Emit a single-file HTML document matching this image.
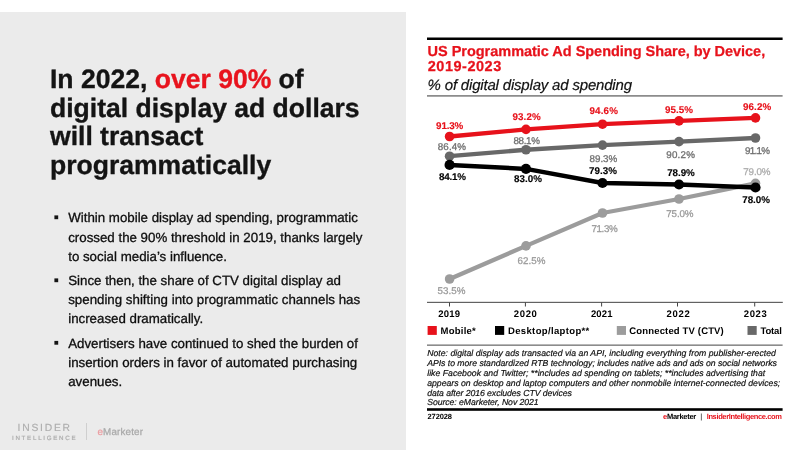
<!DOCTYPE html><html><head><meta charset="utf-8"><title>Slide</title><style>
html,body{margin:0;padding:0}body{width:800px;height:450px;position:relative;overflow:hidden;background:#fff;font-family:"Liberation Sans", sans-serif}
.t{position:absolute;white-space:nowrap;line-height:1;text-rendering:geometricPrecision}.r{position:absolute}
</style></head><body><div id="slide" style="position:absolute;left:0;top:0;width:800px;height:450px;will-change:transform">
<div class="r" style="left:0;top:12px;width:406px;height:438px;background:#ebebeb"></div>
<svg width="800" height="450" viewBox="0 0 800 450" style="position:absolute;left:0;top:0"><polyline points="449.60,279.00 526.00,245.90 602.50,213.00 679.00,199.00 755.50,183.30" fill="none" stroke="#9c9c9c" stroke-width="4.3" stroke-linejoin="round" stroke-linecap="round"/><circle cx="449.60" cy="279.00" r="4.8" fill="#9c9c9c"/><circle cx="526.00" cy="245.90" r="4.8" fill="#9c9c9c"/><circle cx="602.50" cy="213.00" r="4.8" fill="#9c9c9c"/><circle cx="679.00" cy="199.00" r="4.8" fill="#9c9c9c"/><circle cx="755.50" cy="183.30" r="4.8" fill="#9c9c9c"/><polyline points="449.60,156.20 526.00,149.75 602.50,145.10 679.00,141.65 755.50,138.00" fill="none" stroke="#686868" stroke-width="4.3" stroke-linejoin="round" stroke-linecap="round"/><circle cx="449.60" cy="156.20" r="4.8" fill="#686868"/><circle cx="526.00" cy="149.75" r="4.8" fill="#686868"/><circle cx="602.50" cy="145.10" r="4.8" fill="#686868"/><circle cx="679.00" cy="141.65" r="4.8" fill="#686868"/><circle cx="755.50" cy="138.00" r="4.8" fill="#686868"/><polyline points="449.60,164.90 526.00,168.90 602.50,183.00 679.00,184.50 755.50,187.50" fill="none" stroke="#000" stroke-width="4.5" stroke-linejoin="round" stroke-linecap="round"/><circle cx="449.60" cy="164.90" r="5.1" fill="#000"/><circle cx="526.00" cy="168.90" r="5.1" fill="#000"/><circle cx="602.50" cy="183.00" r="5.1" fill="#000"/><circle cx="679.00" cy="184.50" r="5.1" fill="#000"/><circle cx="755.50" cy="187.50" r="5.1" fill="#000"/><polyline points="449.60,136.50 526.00,129.35 602.50,124.20 679.00,120.90 755.50,117.90" fill="none" stroke="#e7121b" stroke-width="4.3" stroke-linejoin="round" stroke-linecap="round"/><circle cx="449.60" cy="136.50" r="4.8" fill="#e7121b"/><circle cx="526.00" cy="129.35" r="4.8" fill="#e7121b"/><circle cx="602.50" cy="124.20" r="4.8" fill="#e7121b"/><circle cx="679.00" cy="120.90" r="4.8" fill="#e7121b"/><circle cx="755.50" cy="117.90" r="4.8" fill="#e7121b"/><rect x="54.4" y="215.4" width="3.8" height="3.8" fill="#141414"/><rect x="54.4" y="278.4" width="3.8" height="3.8" fill="#141414"/><rect x="54.4" y="340.9" width="3.8" height="3.8" fill="#141414"/><rect x="86" y="423" width="1" height="17" fill="#cfcfcf"/><rect x="427" y="37.5" width="355.6" height="2.5" fill="#000"/><rect x="427" y="95.2" width="355.6" height="1.4" fill="#707070"/><rect x="427" y="301.8" width="355.8" height="1.2" fill="#626262"/><rect x="449" y="302.5" width="1" height="4" fill="#444"/><rect x="524.9" y="302.5" width="1" height="4" fill="#444"/><rect x="601.1" y="302.5" width="1" height="4" fill="#444"/><rect x="677" y="302.5" width="1" height="4" fill="#444"/><rect x="754.2" y="302.5" width="1" height="4" fill="#444"/><rect x="427" y="344.5" width="355.6" height="1.3" fill="#707070"/><rect x="427" y="408.2" width="355.6" height="2.6" fill="#000"/><rect x="427.6" y="326" width="9.2" height="8.9" fill="#e7121b"/><rect x="495" y="326" width="9.2" height="8.9" fill="#000"/><rect x="616.8" y="326" width="9.2" height="8.9" fill="#9c9c9c"/><rect x="747.5" y="326" width="9.2" height="8.9" fill="#686868"/></svg>
<section id="headline">
<div class="t" style="left:50.00px;top:66.00px;color:#141414;font-size:26.54px;font-weight:700;-webkit-text-stroke:0.35px;">In 2022, <span style="color:#e8131d">over 90%</span> of</div>
<div class="t" style="left:50.00px;top:95.00px;color:#141414;font-size:26.54px;font-weight:700;-webkit-text-stroke:0.35px;">digital display ad dollars</div>
<div class="t" style="left:50.00px;top:123.00px;color:#141414;font-size:26.54px;font-weight:700;-webkit-text-stroke:0.35px;">will transact</div>
<div class="t" style="left:50.00px;top:152.00px;color:#141414;font-size:26.54px;font-weight:700;-webkit-text-stroke:0.35px;">programmatically</div>
</section>
<section id="bullets">
<div class="t" style="left:68.20px;top:211.00px;color:#0e0e0e;font-size:13.3px;font-weight:400;-webkit-text-stroke:0.3px;">Within mobile display ad spending, programmatic</div>
<div class="t" style="left:68.20px;top:231.00px;color:#0e0e0e;font-size:13.3px;font-weight:400;-webkit-text-stroke:0.3px;">crossed the 90% threshold in 2019, thanks largely</div>
<div class="t" style="left:68.20px;top:250.00px;color:#0e0e0e;font-size:13.3px;font-weight:400;-webkit-text-stroke:0.3px;">to social media’s influence.</div>
<div class="t" style="left:68.20px;top:274.00px;color:#0e0e0e;font-size:13.3px;font-weight:400;-webkit-text-stroke:0.3px;">Since then, the share of CTV digital display ad</div>
<div class="t" style="left:68.20px;top:293.00px;color:#0e0e0e;font-size:13.3px;font-weight:400;-webkit-text-stroke:0.3px;">spending shifting into programmatic channels has</div>
<div class="t" style="left:68.20px;top:312.00px;color:#0e0e0e;font-size:13.3px;font-weight:400;-webkit-text-stroke:0.3px;">increased dramatically.</div>
<div class="t" style="left:68.20px;top:337.00px;color:#0e0e0e;font-size:13.3px;font-weight:400;-webkit-text-stroke:0.3px;">Advertisers have continued to shed the burden of</div>
<div class="t" style="left:68.20px;top:356.00px;color:#0e0e0e;font-size:13.3px;font-weight:400;-webkit-text-stroke:0.3px;">insertion orders in favor of automated purchasing</div>
<div class="t" style="left:68.20px;top:375.00px;color:#0e0e0e;font-size:13.3px;font-weight:400;-webkit-text-stroke:0.3px;">avenues.</div>
</section>
<section id="chart-header">
<div class="t" style="left:427.60px;top:45.00px;color:#e7121b;font-size:14.5px;font-weight:700;letter-spacing:-0.025px;-webkit-text-stroke:0.25px;">US Programmatic Ad Spending Share, by Device,</div>
<div class="t" style="left:427.80px;top:60.00px;color:#e7121b;font-size:14.5px;font-weight:700;letter-spacing:0.507px;-webkit-text-stroke:0.25px;">2019-2023</div>
<div class="t" style="left:427.60px;top:78.00px;color:#111;font-size:15px;font-weight:400;font-style:italic;letter-spacing:-0.185px;-webkit-text-stroke:0.2px;">% of digital display ad spending</div>
</section>
<section id="data-labels">
<div class="t" style="left:436.10px;top:122.00px;color:#e7121b;font-size:9.8px;font-weight:700;letter-spacing:-0.145px;-webkit-text-stroke:0.15px;">91.3%</div>
<div class="t" style="left:512.45px;top:113.00px;color:#e7121b;font-size:9.8px;font-weight:700;letter-spacing:0.130px;-webkit-text-stroke:0.15px;">93.2%</div>
<div class="t" style="left:589.45px;top:107.00px;color:#e7121b;font-size:9.8px;font-weight:700;letter-spacing:0.180px;-webkit-text-stroke:0.15px;">94.6%</div>
<div class="t" style="left:665.00px;top:106.00px;color:#e7121b;font-size:9.8px;font-weight:700;letter-spacing:0.055px;-webkit-text-stroke:0.15px;">95.5%</div>
<div class="t" style="left:743.00px;top:103.00px;color:#e7121b;font-size:9.8px;font-weight:700;letter-spacing:0.105px;-webkit-text-stroke:0.15px;">96.2%</div>
<div class="t" style="left:437.80px;top:143.00px;color:#6f6f6f;font-size:9.8px;font-weight:400;letter-spacing:0.105px;-webkit-text-stroke:0.3px;">86.4%</div>
<div class="t" style="left:513.50px;top:137.00px;color:#6f6f6f;font-size:9.8px;font-weight:400;letter-spacing:-0.345px;-webkit-text-stroke:0.3px;">88.1%</div>
<div class="t" style="left:589.55px;top:155.00px;color:#6f6f6f;font-size:9.8px;font-weight:400;letter-spacing:-0.020px;-webkit-text-stroke:0.3px;">89.3%</div>
<div class="t" style="left:666.20px;top:151.00px;color:#6f6f6f;font-size:9.8px;font-weight:400;letter-spacing:0.255px;-webkit-text-stroke:0.3px;">90.2%</div>
<div class="t" style="left:744.90px;top:147.00px;color:#6f6f6f;font-size:9.8px;font-weight:400;letter-spacing:-0.695px;-webkit-text-stroke:0.3px;">91.1%</div>
<div class="t" style="left:438.90px;top:173.00px;color:#000;font-size:9.8px;font-weight:700;letter-spacing:-0.195px;-webkit-text-stroke:0.15px;">84.1%</div>
<div class="t" style="left:514.00px;top:175.00px;color:#000;font-size:9.8px;font-weight:700;letter-spacing:0.055px;-webkit-text-stroke:0.15px;">83.0%</div>
<div class="t" style="left:589.00px;top:167.00px;color:#000;font-size:9.8px;font-weight:700;letter-spacing:0.055px;-webkit-text-stroke:0.15px;">79.3%</div>
<div class="t" style="left:667.20px;top:169.00px;color:#000;font-size:9.8px;font-weight:700;letter-spacing:-0.045px;-webkit-text-stroke:0.15px;">78.9%</div>
<div class="t" style="left:742.20px;top:196.00px;color:#000;font-size:9.8px;font-weight:700;letter-spacing:0.005px;-webkit-text-stroke:0.15px;">78.0%</div>
<div class="t" style="left:437.50px;top:287.00px;color:#9c9c9c;font-size:9.8px;font-weight:400;letter-spacing:0.055px;-webkit-text-stroke:0.3px;">53.5%</div>
<div class="t" style="left:517.50px;top:257.00px;color:#9c9c9c;font-size:9.8px;font-weight:400;letter-spacing:0.055px;-webkit-text-stroke:0.3px;">62.5%</div>
<div class="t" style="left:591.45px;top:225.00px;color:#9c9c9c;font-size:9.8px;font-weight:400;letter-spacing:-0.370px;-webkit-text-stroke:0.3px;">71.3%</div>
<div class="t" style="left:666.25px;top:210.00px;color:#9c9c9c;font-size:9.8px;font-weight:400;letter-spacing:-0.120px;-webkit-text-stroke:0.3px;">75.0%</div>
<div class="t" style="left:743.25px;top:168.00px;color:#adadad;font-size:9.8px;font-weight:400;letter-spacing:-0.120px;-webkit-text-stroke:0.3px;">79.0%</div>
</section>
<section id="axis-labels">
<div class="t" style="left:438.30px;top:310.00px;color:#000;font-size:9.5px;font-weight:700;letter-spacing:0.220px;">2019</div>
<div class="t" style="left:513.70px;top:310.00px;color:#000;font-size:9.5px;font-weight:700;letter-spacing:0.686px;">2020</div>
<div class="t" style="left:590.95px;top:310.00px;color:#000;font-size:9.5px;font-weight:700;letter-spacing:0.120px;">2021</div>
<div class="t" style="left:666.50px;top:310.00px;color:#000;font-size:9.5px;font-weight:700;letter-spacing:0.686px;">2022</div>
<div class="t" style="left:743.80px;top:310.00px;color:#000;font-size:9.5px;font-weight:700;letter-spacing:0.620px;">2023</div>
</section>
<section id="legend">
<div class="t" style="left:440.50px;top:327.00px;color:#000;font-size:9.5px;font-weight:700;letter-spacing:0.253px;">Mobile*</div>
<div class="t" style="left:508.00px;top:327.00px;color:#000;font-size:9.5px;font-weight:700;letter-spacing:0.352px;">Desktop/laptop**</div>
<div class="t" style="left:629.30px;top:327.00px;color:#000;font-size:9.5px;font-weight:700;letter-spacing:0.156px;">Connected TV (CTV)</div>
<div class="t" style="left:760.50px;top:327.00px;color:#000;font-size:9.5px;font-weight:700;letter-spacing:-0.175px;">Total</div>
</section>
<section id="notes">
<div class="t" style="left:427.20px;top:349.00px;color:#0c0c0c;font-size:8.7px;font-weight:400;font-style:italic;letter-spacing:0.017px;-webkit-text-stroke:0.18px;">Note: digital display ads transacted via an API, including everything from publisher-erected</div>
<div class="t" style="left:427.20px;top:359.00px;color:#0c0c0c;font-size:8.7px;font-weight:400;font-style:italic;letter-spacing:-0.030px;-webkit-text-stroke:0.18px;">APIs to more standardized RTB technology; includes native ads and ads on social networks</div>
<div class="t" style="left:427.20px;top:369.00px;color:#0c0c0c;font-size:8.7px;font-weight:400;font-style:italic;letter-spacing:0.018px;-webkit-text-stroke:0.18px;">like Facebook and Twitter; **includes ad spending on tablets; **includes advertising that</div>
<div class="t" style="left:427.20px;top:379.00px;color:#0c0c0c;font-size:8.7px;font-weight:400;font-style:italic;letter-spacing:0.005px;-webkit-text-stroke:0.18px;">appears on desktop and laptop computers and other nonmobile internet-connected devices;</div>
<div class="t" style="left:427.20px;top:389.00px;color:#0c0c0c;font-size:8.7px;font-weight:400;font-style:italic;letter-spacing:-0.060px;-webkit-text-stroke:0.18px;">data after 2016 excludes CTV devices</div>
<div class="t" style="left:427.20px;top:398.00px;color:#0c0c0c;font-size:8.7px;font-weight:400;font-style:italic;letter-spacing:-0.058px;-webkit-text-stroke:0.18px;">Source: eMarketer, Nov 2021</div>
</section>
<section id="chart-footer">
<div class="t" style="left:427.50px;top:413.00px;color:#000;font-size:7.5px;font-weight:700;letter-spacing:-0.106px;">272028</div>
<div class="t" style="left:663.00px;top:413.00px;color:#000;font-size:7.5px;font-weight:700;letter-spacing:-0.269px;"><span style="color:#e7121b">e</span>Marketer</div>
<div class="t" style="left:700.32px;top:413.00px;color:#000;font-size:7.5px;font-weight:400;">|</div>
<div class="t" style="left:706.70px;top:413.00px;color:#e7121b;font-size:7.5px;font-weight:700;letter-spacing:-0.366px;">InsiderIntelligence.com</div>
</section>
<section id="logos">
<div class="t" style="left:17.60px;top:424.00px;color:#adadad;font-size:10.3px;font-weight:400;letter-spacing:1.770px;-webkit-text-stroke:0.15px;">INSIDER</div>
<div class="t" style="left:12.00px;top:436.00px;color:#adadad;font-size:6.2px;font-weight:400;letter-spacing:1.718px;-webkit-text-stroke:0.2px;">INTELLIGENCE</div>
<div class="t" style="left:97.40px;top:428.00px;color:#a9a9a9;font-size:9.8px;font-weight:400;letter-spacing:0.186px;-webkit-text-stroke:0.25px;"><span style="color:#eb9ea2">e</span>Marketer</div>
</section>
</div></body></html>
